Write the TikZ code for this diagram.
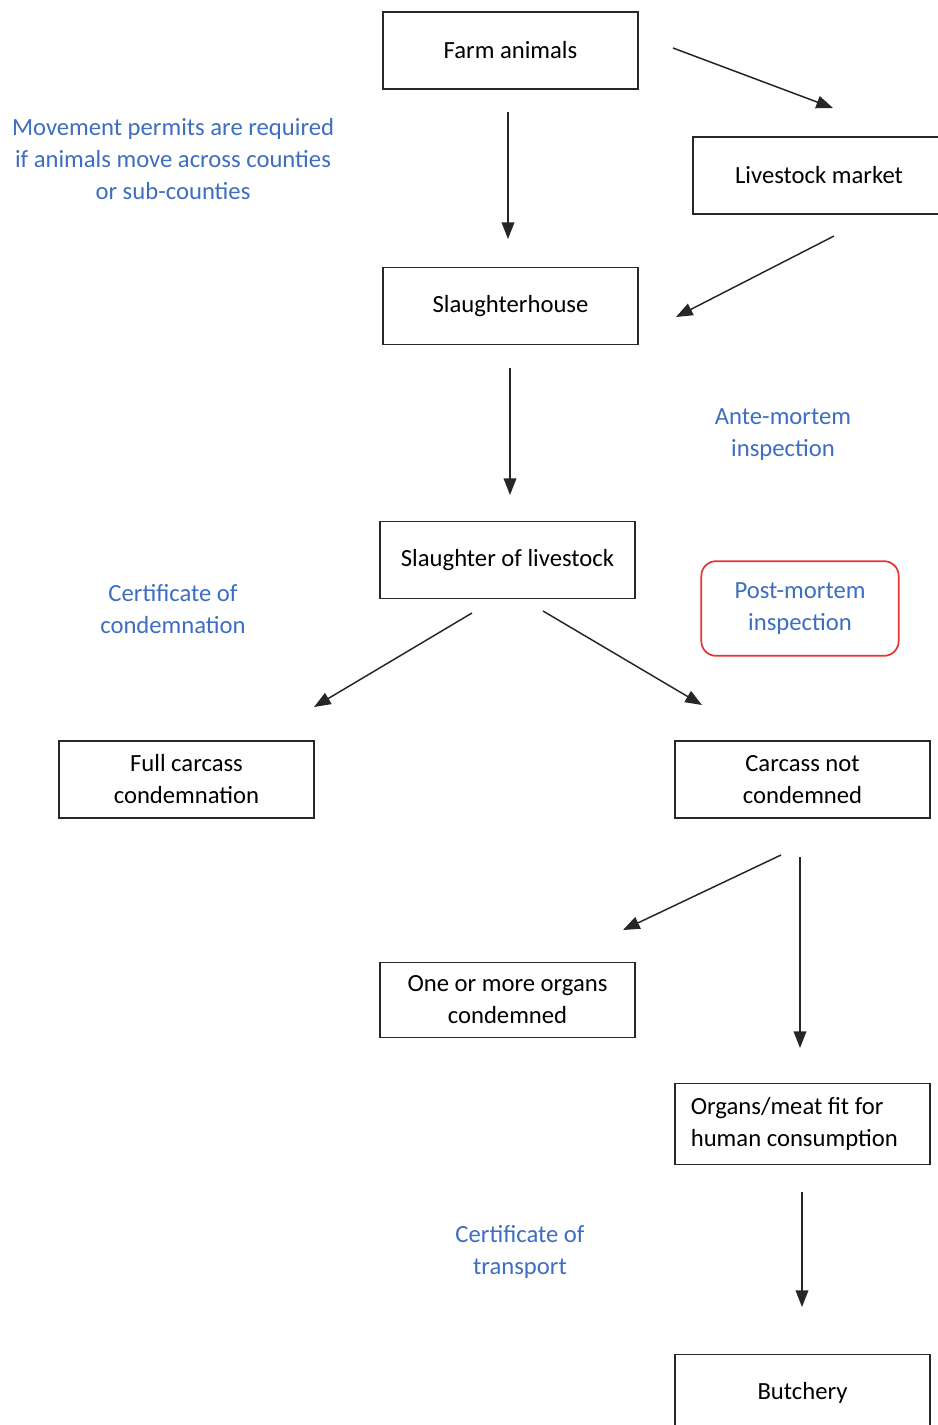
\documentclass[tikz,border=0pt]{standalone}
\usepackage{fontspec}
\setmainfont{Carlito}
\usetikzlibrary{arrows.meta}
\definecolor{lblblue}{RGB}{62,110,192}
\definecolor{boxred}{RGB}{228,52,52}
\definecolor{boxline}{RGB}{40,40,40}
\tikzset{
  txt/.style={font=\fontsize{18.5}{24}\selectfont},
  box/.style={txt, draw=boxline, line width=1.1pt, minimum width=191.5pt, minimum height=57.5pt, inner sep=0pt, align=center, text=black},
  lbl/.style={txt, align=center, inner sep=0pt, text=lblblue},
  redbox/.style={txt, draw=boxred, line width=1.3pt, rounded corners=11pt, minimum width=148pt, minimum height=71pt, inner sep=0pt, align=center, text=lblblue},
  conn/.style={line width=1.1pt, draw=black!85, -{Triangle[length=12.5pt,width=9.5pt]}}
}
\begin{document}
\begin{tikzpicture}[x=0.75pt,y=-0.75pt]
\clip (0,0) rectangle (938,1425);
\fill[white] (0,0) rectangle (938,1425);
% boxes
\node[box] (farm) at (510.5,50.5) {Farm animals};
\node[box, minimum width=189pt] (market) at (819,175.5) {Livestock market};
\node[box] (house) at (510.5,306) {Slaughterhouse};
\node[box] (slaughter) at (507.5,560) {Slaughter of livestock};
\node[box] (full) at (186.5,779.5) {Full carcass\\condemnation};
\node[box] (notcond) at (802.5,779.5) {Carcass not\\condemned};
\node[box, minimum height=56pt] (organs) at (507.5,1000) {One or more organs\\condemned};
\node[box, minimum height=61pt, align=flush left, text width=167.5pt, inner xsep=12pt] (fit) at (802.5,1124) {Organs/meat fit for\\human consumption};
\node[box] (butchery) at (802.5,1393) {Butchery};
% labels
\node[lbl] (permits) at (173,159) {Movement permits are required\\if animals move across counties\\or sub-counties};
\node[lbl] (ante) at (783,434.5) {Ante-mortem\\inspection};
\node[lbl] (certcond) at (173,609) {Certificate of\\condemnation};
\node[redbox] (post) at (800,608.5) {Post-mortem\\inspection};
\node[lbl] (certtrans) at (520,1252) {Certificate of\\transport};
% connector end points
\coordinate (a1s) at (673,48);   \coordinate (a1e) at (833,108);
\coordinate (a2s) at (508,112);  \coordinate (a2e) at (508,239);
\coordinate (a3s) at (834,236);  \coordinate (a3e) at (676,317);
\coordinate (a4s) at (510,368);  \coordinate (a4e) at (510,495);
\coordinate (a5s) at (472,613);  \coordinate (a5e) at (314,707);
\coordinate (a6s) at (543,611);  \coordinate (a6e) at (702,705);
\coordinate (a7s) at (781,855);  \coordinate (a7e) at (623,930);
\coordinate (a8s) at (800,857);  \coordinate (a8e) at (800,1048);
\coordinate (a9s) at (802,1192); \coordinate (a9e) at (802,1307);
% connectors
\draw[conn] (a1s) -- (a1e);
\draw[conn] (a2s) -- (a2e);
\draw[conn] (a3s) -- (a3e);
\draw[conn] (a4s) -- (a4e);
\draw[conn] (a5s) -- (a5e);
\draw[conn] (a6s) -- (a6e);
\draw[conn] (a7s) -- (a7e);
\draw[conn] (a8s) -- (a8e);
\draw[conn] (a9s) -- (a9e);
\end{tikzpicture}
\end{document}
